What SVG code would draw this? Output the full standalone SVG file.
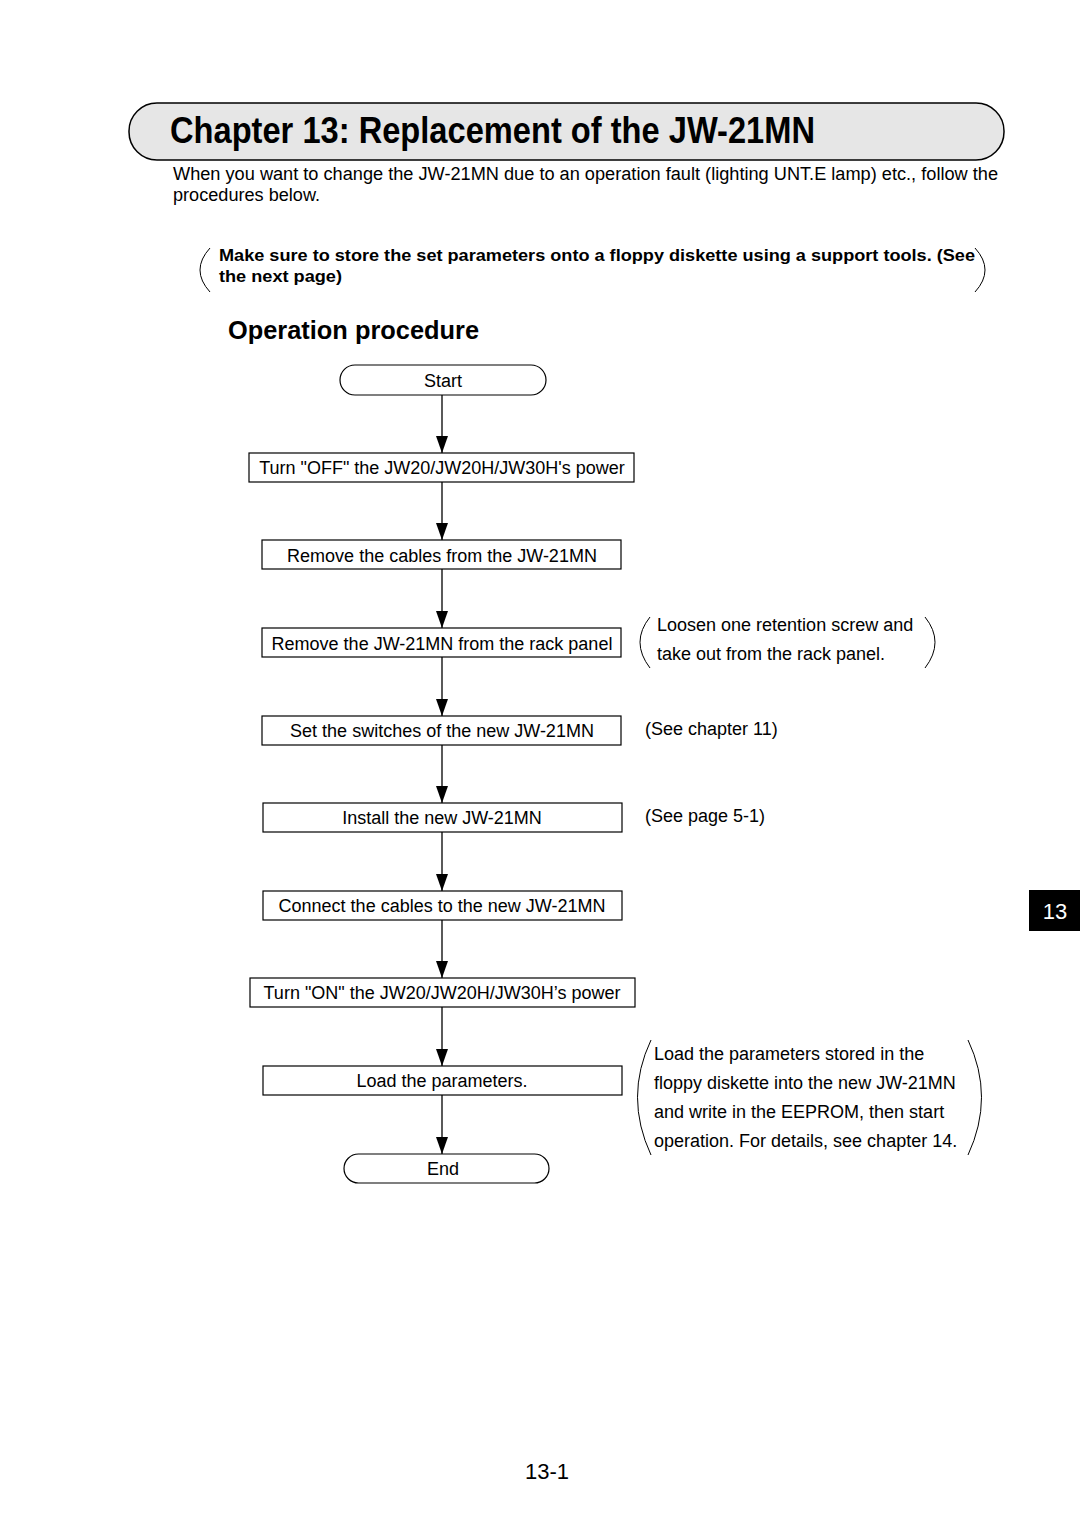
<svg xmlns="http://www.w3.org/2000/svg" width="1080" height="1528" viewBox="0 0 1080 1528">
<style>
text{font-family:"Liberation Sans",Arial,sans-serif;fill:#000}
.b{font-size:18px}
.box{fill:#fff;stroke:#000;stroke-width:1.2}
.ln{stroke:#000;stroke-width:1.3;fill:none}
.par{stroke:#000;stroke-width:1;fill:none}
.c{text-anchor:middle}
</style>
<defs>
<marker id="ah" markerWidth="17" markerHeight="12" refX="17" refY="6" orient="auto" markerUnits="userSpaceOnUse" viewBox="0 0 17 12">
<path d="M0,0 L17,6 L0,12 Z" fill="#000"/>
</marker>
</defs>
<rect width="1080" height="1528" fill="#fff"/>
<g id="title">
<rect x="129" y="103" width="875" height="57" rx="28" ry="28" fill="#e6e6e6" stroke="#000" stroke-width="1.5"/>
<text x="170" y="143" font-size="36" font-weight="bold" textLength="645" lengthAdjust="spacingAndGlyphs">Chapter 13: Replacement of the JW-21MN</text>
</g>
<g id="intro">
<text x="173" y="180" font-size="18" textLength="825" lengthAdjust="spacingAndGlyphs">When you want to change the JW-21MN due to an operation fault (lighting UNT.E lamp) etc., follow the</text>
<text x="173" y="201" font-size="18" textLength="147" lengthAdjust="spacingAndGlyphs">procedures below.</text>
</g>
<g id="note">
<path class="par" d="M210,248 Q190,270 210,292"/>
<path class="par" d="M975,248 Q995,270 975,292"/>
<text x="219" y="261" font-size="17" font-weight="bold" textLength="756" lengthAdjust="spacingAndGlyphs">Make sure to store the set parameters onto a floppy diskette using a support tools. (See</text>
<text x="219" y="282" font-size="17" font-weight="bold" textLength="123" lengthAdjust="spacingAndGlyphs">the next page)</text>
</g>
<text id="heading" x="228" y="339" font-size="25" font-weight="bold" textLength="251" lengthAdjust="spacingAndGlyphs">Operation procedure</text>
<g id="connectors">
<line class="ln" x1="442" y1="395" x2="442" y2="453" marker-end="url(#ah)"/>
<line class="ln" x1="442" y1="482" x2="442" y2="540" marker-end="url(#ah)"/>
<line class="ln" x1="442" y1="569" x2="442" y2="628" marker-end="url(#ah)"/>
<line class="ln" x1="442" y1="657" x2="442" y2="716" marker-end="url(#ah)"/>
<line class="ln" x1="442" y1="745" x2="442" y2="803" marker-end="url(#ah)"/>
<line class="ln" x1="442" y1="832" x2="442" y2="891" marker-end="url(#ah)"/>
<line class="ln" x1="442" y1="920" x2="442" y2="978" marker-end="url(#ah)"/>
<line class="ln" x1="442" y1="1007" x2="442" y2="1066" marker-end="url(#ah)"/>
<line class="ln" x1="442" y1="1095" x2="442" y2="1154" marker-end="url(#ah)"/>
</g>
<g id="start">
<rect class="box" x="340" y="365" width="206" height="30" rx="15"/>
<text class="b c" x="443" y="387">Start</text>
</g>
<g id="step1">
<rect class="box" x="249" y="453" width="385" height="29"/>
<text class="b c" x="442" y="474">Turn "OFF" the JW20/JW20H/JW30H's power</text>
</g>
<g id="step2">
<rect class="box" x="262" y="540" width="359" height="29"/>
<text class="b c" x="442" y="562">Remove the cables from the JW-21MN</text>
</g>
<g id="step3">
<rect class="box" x="262" y="628" width="359" height="29"/>
<text class="b c" x="442" y="650">Remove the JW-21MN from the rack panel</text>
</g>
<g id="step4">
<rect class="box" x="262" y="716" width="359" height="29"/>
<text class="b c" x="442" y="737">Set the switches of the new JW-21MN</text>
</g>
<g id="step5">
<rect class="box" x="263" y="803" width="359" height="29"/>
<text class="b c" x="442" y="824">Install the new JW-21MN</text>
</g>
<g id="step6">
<rect class="box" x="263" y="891" width="359" height="29"/>
<text class="b c" x="442" y="912">Connect the cables to the new JW-21MN</text>
</g>
<g id="step7">
<rect class="box" x="250" y="978" width="385" height="29"/>
<text class="b c" x="442" y="999">Turn "ON" the JW20/JW20H/JW30H’s power</text>
</g>
<g id="step8">
<rect class="box" x="263" y="1066" width="359" height="29"/>
<text class="b c" x="442" y="1087">Load the parameters.</text>
</g>
<g id="end">
<rect class="box" x="344" y="1154" width="205" height="29" rx="14.5"/>
<text class="b c" x="443" y="1175">End</text>
</g>
<g id="note-remove">
<path class="par" d="M650,617 Q630,642 650,668"/>
<path class="par" d="M925,617 Q945,642 925,668"/>
<text class="b" x="657" y="631">Loosen one retention screw and</text>
<text class="b" x="657" y="660">take out from the rack panel.</text>
</g>
<text id="note-switch" class="b" x="645" y="735">(See chapter 11)</text>
<text id="note-install" class="b" x="645" y="822">(See page 5-1)</text>
<g id="note-load">
<path class="par" d="M651,1040 Q624,1097 651,1155"/>
<path class="par" d="M968,1040 Q995,1097 968,1155"/>
<text class="b" x="654" y="1060">Load the parameters stored in the</text>
<text class="b" x="654" y="1089">floppy diskette into the new JW-21MN</text>
<text class="b" x="654" y="1118">and write in the EEPROM, then start</text>
<text class="b" x="654" y="1147">operation. For details, see chapter 14.</text>
</g>
<g id="tab">
<rect x="1029" y="890" width="51" height="41" fill="#000"/>
<text x="1055" y="919" font-size="22" text-anchor="middle" style="fill:#fff">13</text>
</g>
<text id="pagenum" x="547" y="1479" font-size="22" text-anchor="middle">13-1</text>
</svg>
